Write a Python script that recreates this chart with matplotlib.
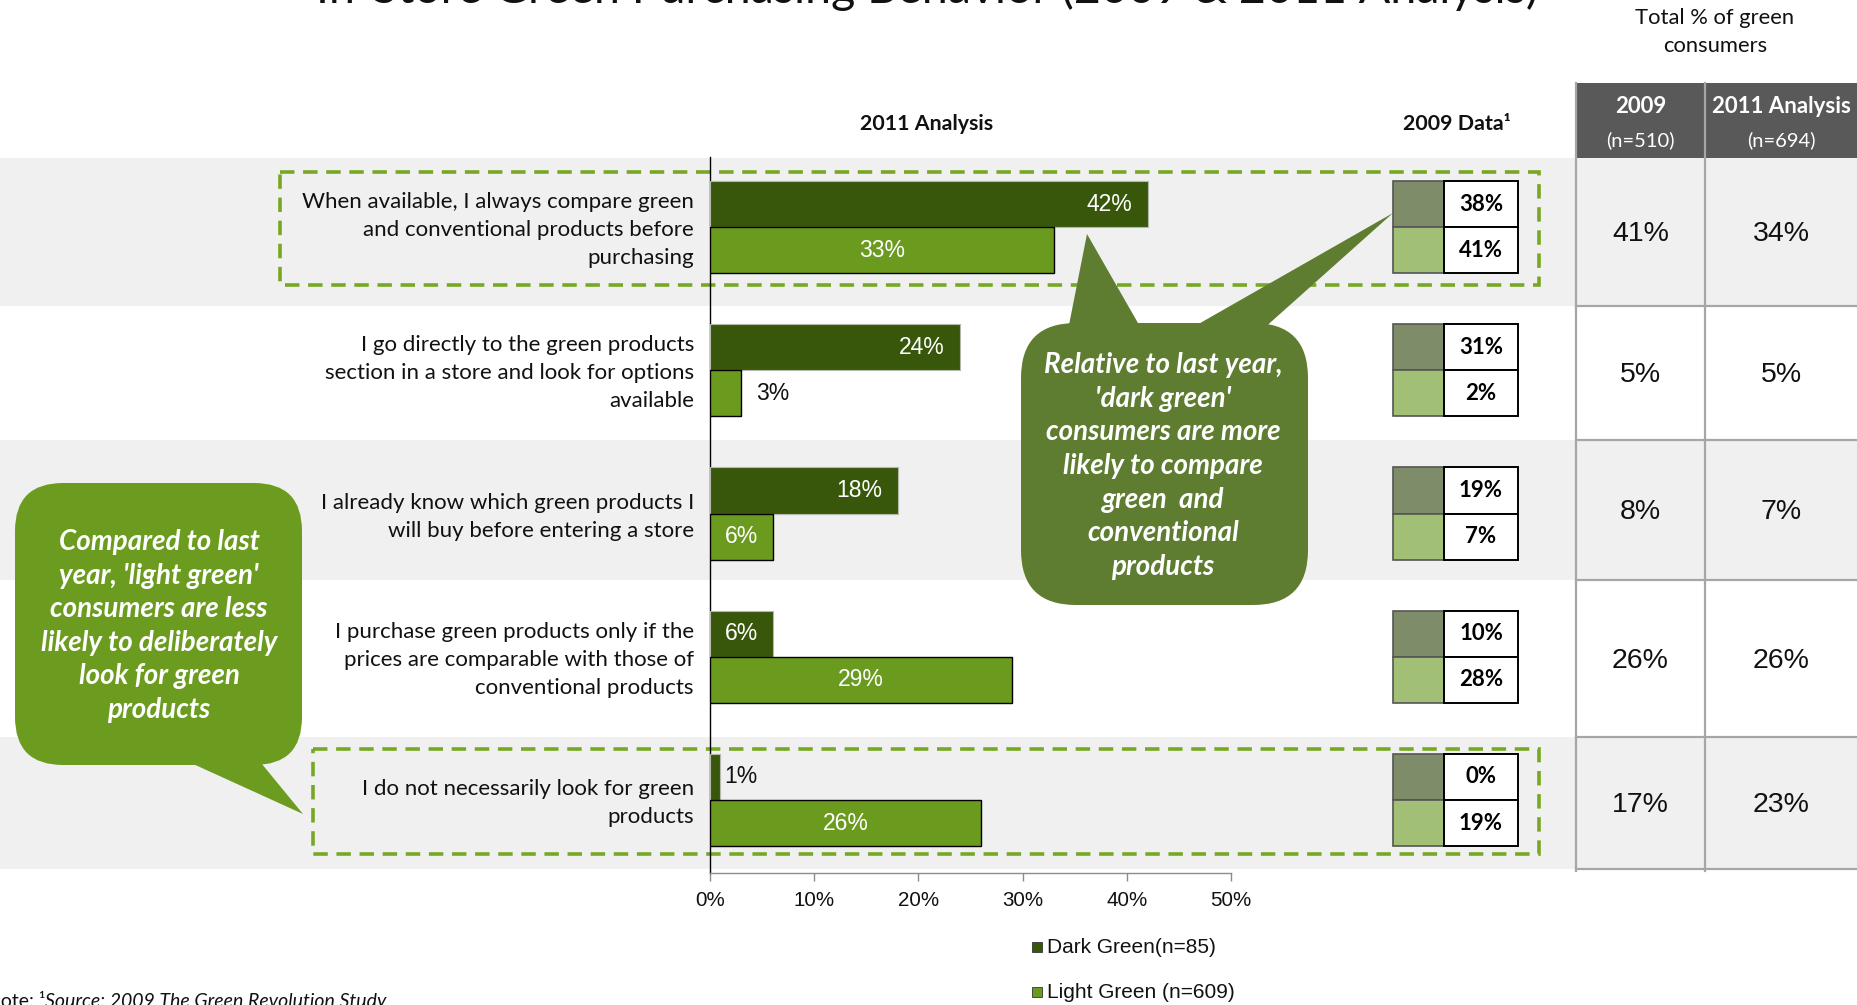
import matplotlib
matplotlib.use("Agg")
import matplotlib.pyplot as plt
from matplotlib.patches import Rectangle, FancyBboxPatch, Polygon
from matplotlib.lines import Line2D

# ---- data -------------------------------------------------------------
categories = [
    "When available, I always compare green\nand conventional products before\npurchasing",
    "I go directly to the green products\nsection in a store and look for options\navailable",
    "I already know which green products I\nwill buy before entering a store",
    "I purchase green products only if the\nprices are comparable with those of\nconventional products",
    "I do not necessarily look for green\nproducts",
]
dark_2011 = [42, 24, 18, 6, 1]
light_2011 = [33, 3, 6, 29, 26]
dark_2009 = [38, 31, 19, 10, 0]
light_2009 = [41, 2, 7, 28, 19]
total_2009 = [41, 5, 8, 26, 17]
total_2011 = [34, 5, 7, 26, 23]
x_ticks = [0, 10, 20, 30, 40, 50]
legend_labels = ["Dark Green(n=85)", "Light Green (n=609)"]
table_years = ["2009", "2011 Analysis"]
table_sizes = ["(n=510)", "(n=694)"]

title = "In-Store Green Purchasing Behavior (2009 & 2011 Analysis)"
note_dark = ("Relative to last year,\n'dark green'\nconsumers are more\nlikely to compare\n"
             "green  and\nconventional\nproducts")
note_light = ("Compared to last\nyear, 'light green'\nconsumers are less\nlikely to deliberately\n"
              "look for green\nproducts")

# ---- style ------------------------------------------------------------
CAL = ["Lato", "DejaVu Sans"]
ARI = ["Liberation Sans", "DejaVu Sans"]
DARK = "#38570A"
LIGHT = "#6A9B1F"
BAND = "#F0F0F0"
DASH = "#77A824"
BUBBLE_L = "#6B9C1F"
BUBBLE_D = "#5E7D31"
BOX_D = "#7F8C69"
BOX_L = "#A1C075"
HEAD = "#595959"
GRID = "#A6A6A6"
TXT = "#111111"

W, H = 1858, 1005
fig = plt.figure(figsize=(W / 100, H / 100), dpi=100)
fig.patch.set_facecolor("white")

# backdrop layer in pixel coordinates
bg = fig.add_axes([0, 0, 1, 1], zorder=0)
bg.set_xlim(0, W)
bg.set_ylim(H, 0)
bg.axis("off")

# bar chart
ax_l, ax_r, ax_t, ax_b = 710, 1231, 157, 873
ax = fig.add_axes([ax_l / W, 1 - ax_b / H, (ax_r - ax_l) / W, (ax_b - ax_t) / H], zorder=2)
ax.patch.set_alpha(0)
n = len(categories)
rows = list(range(n))
bh = 0.322
ax.set_xlim(0, 50)
ax.set_ylim(n - 0.49, -0.49)

dark_bars = ax.barh([r - bh / 2 for r in rows], dark_2011, height=bh, color=DARK,
                    edgecolor="#B4B9AE", linewidth=0.8, zorder=3)
light_bars = ax.barh([r + bh / 2 for r in rows], light_2011, height=bh, color=LIGHT,
                     edgecolor="black", linewidth=1.0, zorder=3)

LBL = 16.5
for r, v in zip(rows, dark_2011):
    y = r - bh / 2
    if v >= 10:
        ax.text(v - 1.5, y, f"{v}%", ha="right", va="center", color="white",
                fontsize=LBL, family=ARI, zorder=4)
    elif v >= 5:
        ax.text(v / 2, y, f"{v}%", ha="center", va="center", color="white",
                fontsize=LBL, family=ARI, zorder=4)
    else:
        ax.text(v + 0.4, y, f"{v}%", ha="left", va="center", color=TXT,
                fontsize=LBL, family=ARI, zorder=4)
for r, v in zip(rows, light_2011):
    y = r + bh / 2
    if v >= 5:
        ax.text(v / 2, y, f"{v}%", ha="center", va="center", color="white",
                fontsize=LBL, family=ARI, zorder=4)
    else:
        ax.text(v + 1.4, y, f"{v}%", ha="left", va="center", color=TXT,
                fontsize=LBL, family=ARI, zorder=4)

ax.set_xticks(x_ticks)
ax.set_xticklabels([f"{t}%" for t in x_ticks], family=ARI, fontsize=14.8, color=TXT)
ax.set_yticks([])
ax.tick_params(axis="x", direction="out", length=6, width=1, color="#8C8C8C", pad=7)
for s in ("top", "right"):
    ax.spines[s].set_visible(False)
ax.spines["left"].set_color("black")
ax.spines["left"].set_linewidth(1.0)
ax.spines["bottom"].set_color("#8C8C8C")
ax.spines["bottom"].set_linewidth(1.0)

fig.canvas.draw()


def row_px(yval):
    disp = ax.transData.transform((0, yval))
    return bg.transData.inverted().transform(disp)[1]


centers = [row_px(r) for r in rows]
half = row_px(bh) - row_px(0)

# alternating row bands and table body
edges = [158, 306, 440, 580, 737, 869]
tab_l, tab_m, tab_r = 1576, 1705, W + 5
for i in range(n):
    if i % 2 == 0:
        bg.add_patch(Rectangle((0, edges[i]), W, edges[i + 1] - edges[i],
                               facecolor=BAND, edgecolor="none", zorder=0))

# table
bg.add_patch(Rectangle((tab_l, 83), tab_r - tab_l, edges[0] - 83, facecolor=HEAD,
                       edgecolor="none", zorder=1))
for x in (tab_l, tab_m):
    bg.add_line(Line2D([x, x], [83, edges[-1] + 2], color=GRID, lw=1.6, zorder=2))
for e in edges[1:]:
    bg.add_line(Line2D([tab_l, tab_r], [e, e], color=GRID, lw=1.6, zorder=2))
col_cx = [(tab_l + tab_m) / 2, (tab_m + 1858) / 2]
for cx, yr, sz in zip(col_cx, table_years, table_sizes):
    bg.text(cx, 106, yr, ha="center", va="center", color="white", fontsize=16,
            fontweight="bold", family=CAL, zorder=3)
    bg.text(cx, 140, sz, ha="center", va="center", color="white", fontsize=14.5,
            family=CAL, zorder=3)
for i in range(n):
    yc = (edges[i] + edges[i + 1]) / 2 + 2
    bg.text(col_cx[0], yc, f"{total_2009[i]}%", ha="center", va="center",
            fontsize=20.5, family=ARI, color=TXT, zorder=3)
    bg.text(col_cx[1], yc, f"{total_2011[i]}%", ha="center", va="center",
            fontsize=20.5, family=ARI, color=TXT, zorder=3)
bg.text(1715, 32, "Total % of green\nconsumers", ha="center", va="center",
        fontsize=15.8, family=CAL, color=TXT, linespacing=1.5)

# 2009 comparison cells
bx0, bx1, bx2 = 1393, 1444, 1518
for i in range(n):
    yc = centers[i]
    bg.add_patch(Rectangle((bx0, yc - half), bx1 - bx0, half, facecolor=BOX_D,
                           edgecolor="#555555", lw=1.2, zorder=2))
    bg.add_patch(Rectangle((bx0, yc), bx1 - bx0, half, facecolor=BOX_L,
                           edgecolor="#555555", lw=1.2, zorder=2))
    bg.add_patch(Rectangle((bx1, yc - half), bx2 - bx1, half, facecolor="white",
                           edgecolor="black", lw=1.4, zorder=2))
    bg.add_patch(Rectangle((bx1, yc), bx2 - bx1, half, facecolor="white",
                           edgecolor="black", lw=1.4, zorder=2))
    bg.text((bx1 + bx2) / 2, yc - half / 2, f"{dark_2009[i]}%", ha="center", va="center",
            fontsize=16, fontweight="bold", family=CAL, color="black", zorder=3)
    bg.text((bx1 + bx2) / 2, yc + half / 2, f"{light_2009[i]}%", ha="center", va="center",
            fontsize=16, fontweight="bold", family=CAL, color="black", zorder=3)

# category labels
for i, lab in enumerate(categories):
    bg.text(694, centers[i] + 3, lab, ha="right", va="center", multialignment="right",
            fontsize=16, family=CAL, color=TXT, linespacing=1.5, zorder=3)

# column headers
bg.text(927, 124, "2011 Analysis", ha="center", va="center", fontsize=15.4,
        fontweight="bold", family=CAL, color=TXT)
bg.text(1457, 124, "2009 Data\u00b9", ha="center", va="center", fontsize=15.4,
        fontweight="bold", family=CAL, color=TXT)

# title (runs off the top edge)
bg.text(927, 3, title, ha="center", va="baseline", fontsize=33.6, family=CAL, color=TXT)

# highlight frames
for (x0, y0, x1, y1) in [(280, 172, 1539, 285), (313, 749, 1539, 854)]:
    bg.add_patch(Rectangle((x0, y0), x1 - x0, y1 - y0, fill=False, edgecolor=DASH,
                           lw=2.6, linestyle=(0, (4, 2.4)), zorder=1.5))

# callouts
top = fig.add_axes([0, 0, 1, 1], zorder=5)
top.set_xlim(0, W)
top.set_ylim(H, 0)
top.axis("off")
top.patch.set_alpha(0)

top.add_patch(FancyBboxPatch((1021, 323), 1308 - 1021, 605 - 323,
                             boxstyle="round,pad=0,rounding_size=55",
                             facecolor=BUBBLE_D, edgecolor="none"))
top.add_patch(Polygon([(1068, 330), (1087, 234), (1142, 330)], closed=True,
                      facecolor=BUBBLE_D, edgecolor="none"))
top.add_patch(Polygon([(1188, 330), (1393, 213), (1262, 330)], closed=True,
                      facecolor=BUBBLE_D, edgecolor="none"))
top.text(1163, 466, note_dark, ha="center", va="center", color="white", fontsize=20,
         fontweight="bold", fontstyle="italic", family=CAL, linespacing=1.36)

top.add_patch(FancyBboxPatch((15, 483), 302 - 15, 765 - 483,
                             boxstyle="round,pad=0,rounding_size=48",
                             facecolor=BUBBLE_L, edgecolor="none"))
top.add_patch(Polygon([(180, 758), (303, 814), (257, 758)], closed=True,
                      facecolor=BUBBLE_L, edgecolor="none"))
top.text(159, 626, note_light, ha="center", va="center", color="white", fontsize=20,
         fontweight="bold", fontstyle="italic", family=CAL, linespacing=1.36)

# legend
for (lab, col, yc) in zip(legend_labels, [DARK, LIGHT], [947, 992]):
    bg.add_patch(Rectangle((1032, yc - 5), 10, 10, facecolor=col, edgecolor="#333333",
                           lw=0.6, zorder=3))
    bg.text(1047, yc, lab, ha="left", va="center", fontsize=15, family=ARI, color=TXT)

# footnote (partly off the left and bottom edges)
t1 = bg.text(-14, 1007, "Note: \u00b9", ha="left", va="baseline", fontsize=14,
             family=CAL, color=TXT)
bg.annotate("Source: 2009 The Green Revolution Study", xy=(1, 0), xycoords=t1,
            ha="left", va="bottom", fontsize=14, family=CAL, fontstyle="italic",
            color=TXT)

fig.savefig("out.png", dpi=100, facecolor="white")
